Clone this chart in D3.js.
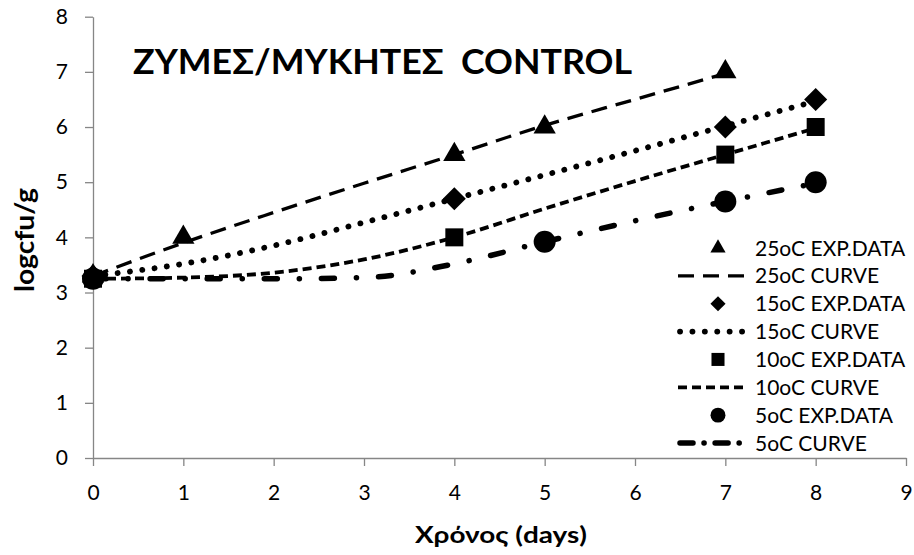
<!DOCTYPE html>
<html>
<head>
<meta charset="utf-8">
<script src="https://cdn.jsdelivr.net/npm/d3@7"></script>
<style>
  body { margin: 0; background: #fff; }
  svg { font-family: Lato, "Open Sans", sans-serif; }
  text { white-space: pre; }
</style>
</head>
<body>
<svg id="chart" width="914" height="555"></svg>
<script>
// DATA
var titleText = "ΖΥΜΕΣ/ΜΥΚΗΤΕΣ  CONTROL";
var xTicks = [0, 1, 2, 3, 4, 5, 6, 7, 8, 9];
var yTicks = [0, 1, 2, 3, 4, 5, 6, 7, 8];

// experimental points
var days25 = [0, 1, 4, 5, 7],  exp25 = [3.3, 4.0, 5.5, 6.0, 7.0];
var days15 = [0, 4, 7, 8],     exp15 = [3.3, 4.7, 6.0, 6.5];
var days10 = [0, 4, 7, 8],     exp10 = [3.25, 4.0, 5.5, 6.0];
var days5  = [0, 5, 7, 8],     exp5  = [3.25, 3.92, 4.65, 5.0];

// fitted curves
var curveDays = [0, 1, 2, 3, 4, 5, 6, 7, 8];
var curve25 = [3.3, 3.9, 4.45, 4.98, 5.5, 6.03, 6.5, 6.97];
var curve15 = [3.3, 3.52, 3.85, 4.27, 4.7, 5.13, 5.57, 6.02, 6.47];
var curve10 = [3.25, 3.27, 3.36, 3.6, 4.0, 4.52, 5.02, 5.5, 5.98];
var curve5  = [3.25, 3.25, 3.25, 3.27, 3.52, 3.92, 4.3, 4.65, 4.98];

var legendLabels = ["25oC EXP.DATA", "25oC CURVE", "15oC EXP.DATA", "15oC CURVE",
                    "10oC EXP.DATA", "10oC CURVE", "5oC EXP.DATA", "5oC CURVE"];

// STYLES
var lineStyles = {
  c25: { width: 3.3, dash: "16,9", cap: "butt" },
  c15: { width: 5.8, dash: "0.1,12.3", cap: "round" },
  c10: { width: 3.8, dash: "9,5", cap: "butt" },
  c5:  { width: 5.5, dash: "13,22,0.1,22", cap: "round" }
};

var svg = d3.select("#chart");
var x = d3.scaleLinear().domain([0, 9]).range([93, 906]);
var y = d3.scaleLinear().domain([0, 8]).range([458, 16.7]);
var grey = "#868686";

// axes
var yAxis = svg.append("g")
    .attr("transform", "translate(" + x(0) + ",0)")
    .call(d3.axisLeft(y).tickValues(yTicks).tickSize(8).tickSizeOuter(0).tickPadding(17));
var xAxis = svg.append("g")
    .attr("transform", "translate(0," + y(0) + ")")
    .call(d3.axisBottom(x).tickValues(xTicks).tickSize(8).tickSizeOuter(0).tickPadding(19));
[xAxis, yAxis].forEach(function (a) {
  a.selectAll("path, line").attr("stroke", grey).attr("stroke-width", 1.3);
  a.selectAll("text").attr("font-size", 21).attr("fill", "#000")
    .attr("font-family", "Lato, 'Open Sans', sans-serif");
});

// curves
function drawCurve(vals, st) {
  var line = d3.line()
    .x(function (d, i) { return x(curveDays[i]); })
    .y(function (d) { return y(d); })
    .curve(d3.curveMonotoneX);
  svg.append("path")
    .datum(vals)
    .attr("d", line)
    .attr("fill", "none")
    .attr("stroke", "#000")
    .attr("stroke-width", st.width)
    .attr("stroke-dasharray", st.dash)
    .attr("stroke-linecap", st.cap);
}
drawCurve(curve25, lineStyles.c25);
drawCurve(curve15, lineStyles.c15);
drawCurve(curve10, lineStyles.c10);
drawCurve(curve5, lineStyles.c5);

// markers
function symbolPath(kind, big) {
  if (kind == "tri") return d3.symbol(d3.symbolTriangle, big ? 215 : 100)();
  if (kind == "dia") return d3.symbol(d3.symbolSquare, big ? 265 : 115)();
  if (kind == "sq") return d3.symbol(d3.symbolSquare, big ? 324 : 170)();
  return d3.symbol(d3.symbolCircle, big ? 380 : 175)();
}
function drawMarkers(days, vals, kind) {
  svg.append("g").selectAll("path")
    .data(vals)
    .join("path")
    .attr("d", symbolPath(kind, true))
    .attr("fill", "#000")
    .attr("transform", function (d, i) {
      return "translate(" + x(days[i]) + "," + y(d) + ")" + (kind == "dia" ? " rotate(45)" : "");
    });
}
drawMarkers(days25, exp25, "tri");
drawMarkers(days15, exp15, "dia");
drawMarkers(days10, exp10, "sq");
drawMarkers(days5, exp5, "circ");

// title and axis titles
svg.append("text")
  .attr("x", 133).attr("y", 74)
  .attr("font-size", 34).attr("font-weight", "bold")
  .attr("textLength", 499).attr("lengthAdjust", "spacingAndGlyphs")
  .text(titleText);
svg.append("text")
  .attr("x", 415).attr("y", 543)
  .attr("font-size", 23).attr("font-weight", "bold")
  .attr("textLength", 172).attr("lengthAdjust", "spacingAndGlyphs")
  .text("Χρόνος (days)");
svg.append("text")
  .attr("transform", "translate(34,292) rotate(-90)")
  .attr("font-size", 26).attr("font-weight", "bold")
  .attr("textLength", 104).attr("lengthAdjust", "spacingAndGlyphs")
  .text("logcfu/g");

// legend
var legendKinds = ["tri", "c25", "dia", "c15", "sq", "c10", "circ", "c5"];
var legendY = d3.scaleLinear().domain([0, 7]).range([248, 443]);
var legend = svg.append("g");
legendLabels.forEach(function (lab, i) {
  var k = legendKinds[i], ly = legendY(i);
  if (lineStyles[k]) {
    var st = lineStyles[k];
    legend.append("line")
      .attr("x1", k == "c15" || k == "c5" ? 680 : 678).attr("x2", k == "c15" || k == "c5" ? 745 : 747)
      .attr("y1", ly).attr("y2", ly)
      .attr("stroke", "#000")
      .attr("stroke-width", st.width)
      .attr("stroke-dasharray", k == "c5" ? "13,11,0.1,11" : st.dash)
      .attr("stroke-linecap", st.cap);
  } else {
    legend.append("path")
      .attr("d", symbolPath(k, false))
      .attr("transform", "translate(718," + ly + ")" + (k == "dia" ? " rotate(45)" : ""));
  }
  legend.append("text")
    .attr("x", 755).attr("y", ly)
    .attr("dy", "0.36em")
    .attr("font-size", 21)
    .text(lab);
});
</script>
</body>
</html>
